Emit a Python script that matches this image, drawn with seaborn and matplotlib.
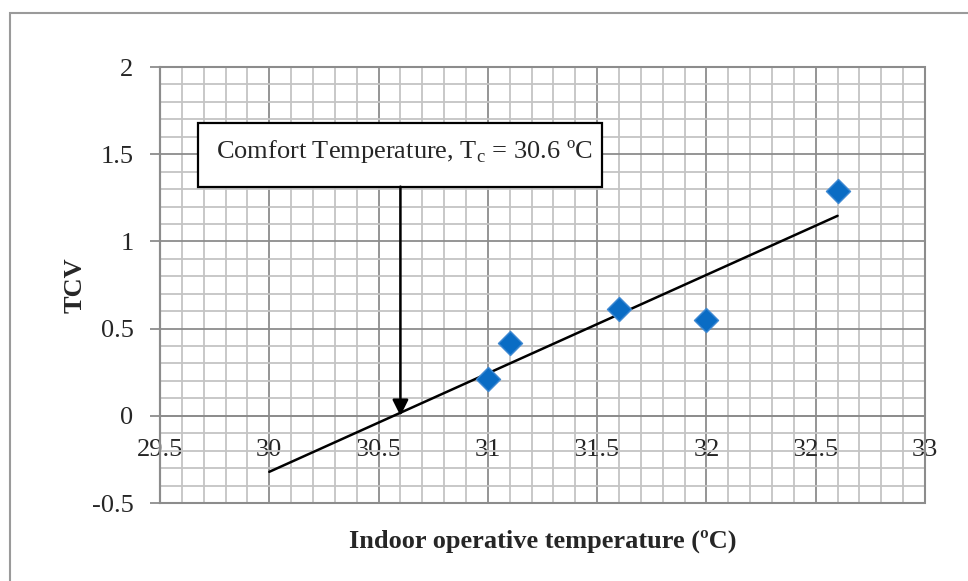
import numpy as np
import pandas as pd
import seaborn as sns
import matplotlib
matplotlib.use("Agg")
import matplotlib.pyplot as plt
from matplotlib.patches import Rectangle
from matplotlib.ticker import MultipleLocator

# Observed mean thermal comfort vote against indoor operative temperature
indoor_temp = [31.0, 31.1, 31.6, 32.0, 32.6]
tcv = [0.21, 0.42, 0.61, 0.55, 1.29]
trend_start = 30.0          # regression line extended back to 30 °C
comfort_temp = 30.6         # neutral temperature (TCV = 0)

x_ticks = [29.5, 30, 30.5, 31, 31.5, 32, 32.5, 33]
y_ticks = [-0.5, 0, 0.5, 1, 1.5, 2]

df = pd.DataFrame({"temp": indoor_temp, "tcv": tcv})

sns.set_style("white")
plt.rcParams["font.family"] = ["Liberation Serif", "DejaVu Serif"]
plt.rcParams["mathtext.fontset"] = "custom"
plt.rcParams["mathtext.rm"] = "Liberation Serif"

FS = 19

fig = plt.figure(figsize=(9.68, 5.81), dpi=100)
ax = fig.add_axes([160 / 968, 1 - 503 / 581, 765 / 968, 436 / 581])

# Grid: minor every 0.1, major at tick positions
ax.set_xlim(x_ticks[0], x_ticks[-1])
ax.set_ylim(y_ticks[0], y_ticks[-1])
ax.set_xticks(x_ticks)
ax.set_yticks(y_ticks)
ax.xaxis.set_minor_locator(MultipleLocator(0.1))
ax.yaxis.set_minor_locator(MultipleLocator(0.1))
ax.grid(which="minor", color="#c4c4c4", lw=1.3)
ax.grid(which="major", color="#8c8c8c", lw=1.3)
ax.set_axisbelow(True)
for gl in ax.xaxis.get_gridlines() + ax.yaxis.get_gridlines():
    gl.set_clip_on(False)

# Linear trendline
slope, intercept = np.polyfit(indoor_temp, tcv, 1)
trend_x = np.array([trend_start, max(indoor_temp)])
trend = pd.DataFrame({"temp": trend_x, "tcv": slope * trend_x + intercept})
sns.lineplot(data=trend, x="temp", y="tcv", color="black", lw=1.8, ax=ax, zorder=3)

sns.scatterplot(data=df, x="temp", y="tcv", marker="D", s=150,
                color="#0a6cc4", edgecolor="#3d88d2", linewidth=1.0,
                ax=ax, zorder=4, clip_on=False)

# Axes: x axis crosses at TCV = 0
for side in ["top", "right"]:
    ax.spines[side].set_visible(False)
ax.spines["bottom"].set_position(("data", 0))
ax.spines["bottom"].set_color("#8c8c8c")
ax.spines["bottom"].set_linewidth(1.3)
ax.spines["left"].set_color("#8c8c8c")
ax.spines["left"].set_linewidth(1.5)
ax.add_patch(Rectangle((0, 0), 1, 1, transform=ax.transAxes, fill=False,
                       edgecolor="#8c8c8c", lw=1.5, clip_on=False, zorder=2))

ax.tick_params(axis="x", length=0, pad=17, labelsize=FS)
ax.tick_params(axis="y", length=7, width=1.3, color="#8c8c8c",
               direction="out", pad=12, labelsize=FS, left=True)
ax.set_xticklabels([f"{t:g}" for t in x_ticks])
ax.set_yticklabels([f"{t:g}" for t in y_ticks])

ax.set_xlabel("Indoor operative temperature (ºC)", fontsize=FS, fontweight="bold")
ax.set_ylabel("TCV", fontsize=FS, fontweight="bold")
ax.xaxis.set_label_coords(0.5, -0.087)
ax.xaxis.label.set_va("center")
ax.yaxis.set_label_coords(-0.111, 0.5)
ax.yaxis.label.set_va("center")

# Annotation box with arrow pointing to the comfort temperature
box_x0, box_x1 = 29.674, 31.523
box_y0, box_y1 = 1.314, 1.68
ax.add_patch(Rectangle((box_x0, box_y0), box_x1 - box_x0, box_y1 - box_y0,
                       facecolor="white", edgecolor="black", lw=1.6, zorder=5))
ax.text((box_x0 + box_x1) / 2 + 0.02, (box_y0 + box_y1) / 2 + 0.02,
        f"Comfort Temperature, T$_{{\\mathrm{{c}}}}$ = {comfort_temp:g} ºC",
        ha="center", va="center", fontsize=FS, zorder=6)
ax.annotate("", xy=(comfort_temp, 0), xytext=(comfort_temp, box_y0),
            arrowprops=dict(arrowstyle="-|>", color="black", lw=1.8,
                            mutation_scale=24, shrinkA=0, shrinkB=0),
            zorder=6)

# Chart-area border
fig.add_artist(Rectangle((10 / 968, -0.05), 1.1, 1 - 13 / 581 + 0.05,
                         transform=fig.transFigure, fill=False,
                         edgecolor="#9a9a9a", lw=1.5))

fig.savefig("out.png", dpi=100)
